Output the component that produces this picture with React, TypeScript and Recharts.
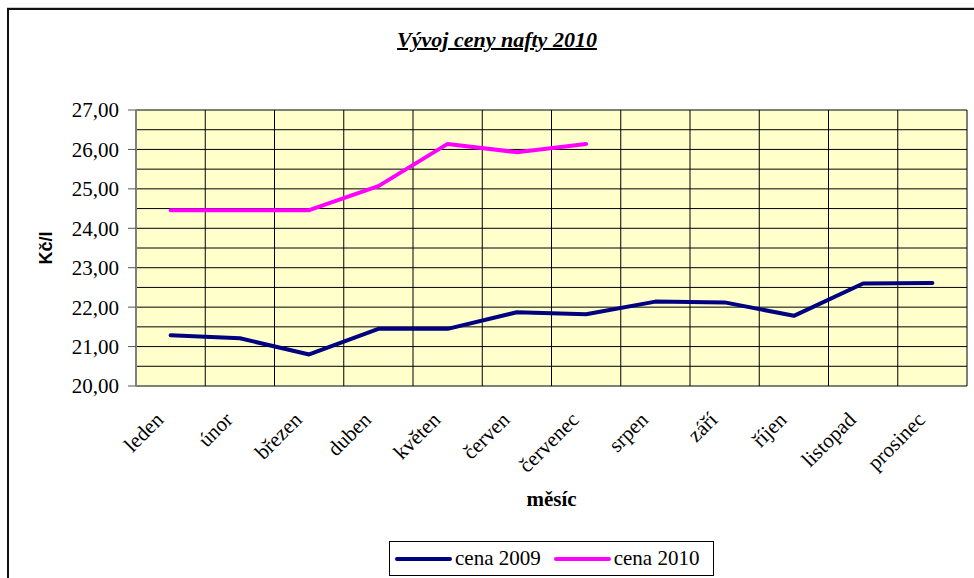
import React from 'react';
import { LineChart, Line, XAxis, YAxis, CartesianGrid, Legend } from 'recharts';

const MONTHS = ['leden', 'únor', 'březen', 'duben', 'květen', 'červen', 'červenec', 'srpen', 'září', 'říjen', 'listopad', 'prosinec'];
const CENA_2009 = [21.29, 21.21, 20.8, 21.45, 21.45, 21.87, 21.82, 22.14, 22.12, 21.78, 22.6, 22.61];
const CENA_2010: (number | null)[] = [24.46, 24.46, 24.46, 25.07, 26.14, 25.93, 26.14, null, null, null, null, null];
const Y_TICKS = [20, 21, 22, 23, 24, 25, 26, 27];
const Y_GRID = [20, 20.5, 21, 21.5, 22, 22.5, 23, 23.5, 24, 24.5, 25, 25.5, 26, 26.5, 27];
const X_BOUNDS = [0, 1, 2, 3, 4, 5, 6, 7, 8, 9, 10, 11, 12];
const X_CENTERS = MONTHS.map((_, i) => i + 0.5);
const SERIES = [
  { key: 'c2009', name: 'cena 2009', color: '#000080' },
  { key: 'c2010', name: 'cena 2010', color: '#FF00FF' },
];

const data = MONTHS.map((m, i) => ({ x: i + 0.5, month: m, c2009: CENA_2009[i], c2010: CENA_2010[i] }));

const SERIF = '"Liberation Serif", "Times New Roman", serif';

const MonthTick = (props: any) => {
  const { x, y, payload } = props;
  const label = MONTHS[Math.floor(payload.value)];
  return (
    <g transform={`translate(${x - 6},${y + 35})`}>
      <text textAnchor="end" transform="rotate(-45)" fontFamily={SERIF} fontSize={21} fill="#000">
        {label}
      </text>
    </g>
  );
};

const EmptyTick = () => <g />;

const LegendBox = () => (
  <div
    style={{
      width: 318,
      height: 33,
      border: '1px solid #000',
      background: '#fff',
      display: 'flex',
      alignItems: 'center',
      paddingLeft: 5,
      boxSizing: 'content-box',
      fontFamily: SERIF,
      fontSize: 21,
      color: '#000',
    }}
  >
    {SERIES.map((s, i) => (
      <div key={s.key} style={{ display: 'flex', alignItems: 'center', marginRight: i === 0 ? 13 : 0 }}>
        <span style={{ display: 'inline-block', width: 57, height: 4, borderRadius: 2, background: s.color, marginRight: 3 }} />
        <span>{s.name}</span>
      </div>
    ))}
  </div>
);

export default function App() {
  return (
    <div style={{ position: 'absolute', left: 0, top: 0, width: 974, height: 578, overflow: 'hidden', background: '#fff' }}>
      <div
        style={{
          position: 'absolute',
          left: 7,
          top: 8,
          width: 1100,
          height: 1000,
          borderLeft: '2px solid #111',
          borderTop: '2px solid #111',
          boxShadow: '0 -1px 0 #ccc',
        }}
      />
      <div
        style={{
          position: 'absolute',
          left: 0,
          top: 27,
          width: 994,
          textAlign: 'center',
          fontFamily: SERIF,
          fontWeight: 'bold',
          fontStyle: 'italic',
          fontSize: 22,
          textDecoration: 'underline',
          textDecorationThickness: 2,
          color: '#000',
        }}
      >
        Vývoj ceny nafty 2010
      </div>
      <div style={{ position: 'absolute', left: 0, top: 0 }}>
        <LineChart width={974} height={578} data={data} margin={{ top: 110, right: 7, bottom: 0, left: 0 }}>
          <CartesianGrid
            xAxisId="num"
            yAxisId="left"
            fill="#FFFFCC"
            fillOpacity={1}
            stroke="#000"
            strokeWidth={1}
            horizontalValues={Y_GRID}
            verticalValues={X_BOUNDS}
          />
          <XAxis
            xAxisId="num"
            type="number"
            dataKey="x"
            domain={[0, 12]}
            ticks={X_BOUNDS}
            interval={0}
            height={0}
            tick={<EmptyTick />}
            tickSize={6}
            tickLine={{ stroke: '#333' }}
            axisLine={{ stroke: '#808080', strokeWidth: 2 }}
          />
          <XAxis
            xAxisId="lab"
            type="number"
            dataKey="x"
            domain={[0, 12]}
            ticks={X_CENTERS}
            interval={0}
            height={192}
            tickSize={0}
            tickMargin={0}
            tickLine={false}
            axisLine={false}
            tick={<MonthTick />}
            label={{
              value: 'měsíc',
              position: 'insideTop',
              offset: 105,
              fontFamily: SERIF,
              fontWeight: 'bold',
              fontSize: 21,
              fill: '#000',
            }}
          />
          <XAxis xAxisId="top" orientation="top" type="number" domain={[0, 12]} height={0} tick={false} tickLine={false} axisLine={{ stroke: '#808080', strokeWidth: 2 }} />
          <YAxis
            yAxisId="left"
            type="number"
            domain={[20, 27]}
            ticks={Y_TICKS}
            interval={0}
            width={136}
            tickSize={8}
            tickMargin={9}
            tickFormatter={(v: number) => v.toFixed(2).replace('.', ',')}
            tick={{ fontFamily: SERIF, fontSize: 21, fill: '#000' }}
            tickLine={{ stroke: '#555' }}
            axisLine={{ stroke: '#808080', strokeWidth: 2 }}
            label={{
              value: 'Kč/l',
              angle: -90,
              position: 'center',
              dx: -22,
              fontFamily: '"Liberation Sans", Arial, sans-serif',
              fontWeight: 'bold',
              fontSize: 18,
              fill: '#000',
            }}
          />
          <YAxis yAxisId="right" orientation="right" domain={[20, 27]} width={0} tick={false} tickLine={false} axisLine={{ stroke: '#808080', strokeWidth: 2 }} />
          {SERIES.map((s) => (
            <Line
              key={s.key}
              xAxisId="num"
              yAxisId="left"
              type="linear"
              dataKey={s.key}
              name={s.name}
              stroke={s.color}
              strokeWidth={4}
              strokeLinecap="round"
              strokeLinejoin="round"
              dot={false}
              activeDot={false}
              isAnimationActive={false}
            />
          ))}
          <Legend
            layout="horizontal"
            verticalAlign="middle"
            align="center"
            wrapperStyle={{ left: 389, top: 541, width: 330, height: 35 }}
            content={<LegendBox />}
          />
        </LineChart>
      </div>
    </div>
  );
}
